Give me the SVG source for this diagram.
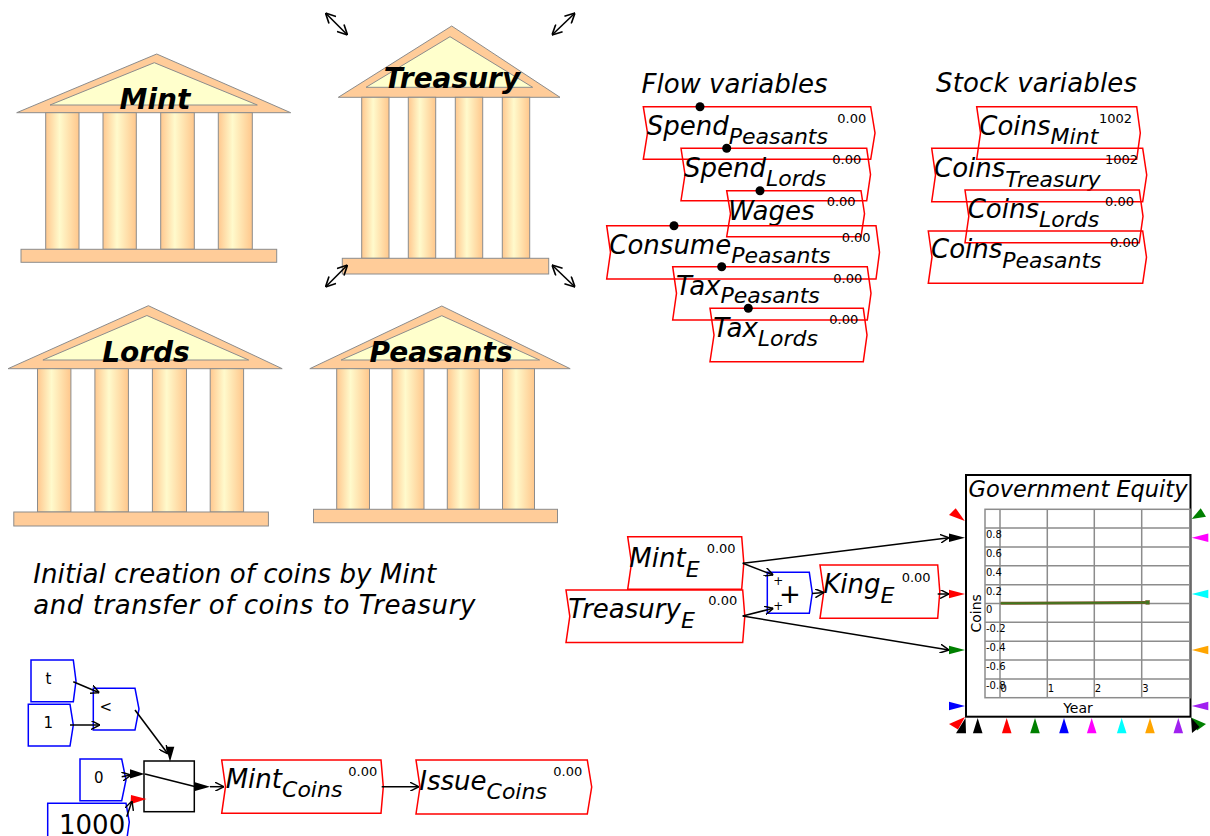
<svg xmlns="http://www.w3.org/2000/svg" width="1210" height="836" viewBox="0 0 1210 836">
  <style>
    text { font-family: "DejaVu Sans", "Liberation Sans", sans-serif; }
    .roof { fill: #ffcc99; stroke: #8c8c8c; stroke-width: 1; }
    .pediment { fill: #ffffcc; stroke: #8c8c8c; stroke-width: 1; }
    .col { fill: url(#colGrad); stroke: #8c8c8c; stroke-width: 1; }
    .base { fill: #ffcc99; stroke: #8c8c8c; stroke-width: 1; }
    .tname { font-size: 28px; font-weight: bold; font-style: italic; text-anchor: middle; }
    .head { font-size: 26px; font-style: italic; }
    .var { fill: none; stroke: #ff0000; stroke-width: 1.5; }
    .cst { fill: #ffffff; stroke: #0000ff; stroke-width: 1.5; }
    .nm { font-size: 26px; font-style: italic; }
    .sb { font-size: 22px; font-style: italic; }
    .val { font-size: 13px; }
    .cl { font-size: 15px; }
    .wire { fill: none; stroke: #000; stroke-width: 1.5; marker-end: url(#openHead); }
    .dot { fill: #000; }
    .grid { stroke: #8c8c8c; stroke-width: 1.5; fill: none; }
    .tick { font-size: 10px; }
    .resize { stroke: #000; stroke-width: 1.6; marker-start: url(#resizeHeadRev); marker-end: url(#resizeHead); }
  </style>
  <defs>
    <linearGradient id="colGrad" x1="0" y1="0" x2="1" y2="0">
      <stop offset="0" stop-color="#ffc88f"/>
      <stop offset="0.42" stop-color="#fffacc"/>
      <stop offset="1" stop-color="#ffc78c"/>
    </linearGradient>
    <marker id="openHead" viewBox="0 0 10 10" refX="10" refY="5" markerWidth="9" markerHeight="9" markerUnits="userSpaceOnUse" orient="auto">
      <path d="M0,0 L10,5 L0,10" fill="none" stroke="#000" stroke-width="1.6"/>
    </marker>
    <marker id="resizeHead" viewBox="0 0 10 10" refX="10" refY="5" markerWidth="11" markerHeight="11" markerUnits="userSpaceOnUse" orient="auto">
      <path d="M1,0.5 L10,5 L1,9.5" fill="none" stroke="#000" stroke-width="1.5"/>
    </marker>
    <marker id="resizeHeadRev" viewBox="0 0 10 10" refX="0" refY="5" markerWidth="11" markerHeight="11" markerUnits="userSpaceOnUse" orient="auto">
      <path d="M9,0.5 L0,5 L9,9.5" fill="none" stroke="#000" stroke-width="1.5"/>
    </marker>
  </defs>
  <rect width="1210" height="836" fill="#ffffff"/>

  <!-- Temples -->
  <g id="mint">
    <polygon class="roof" points="156.7,54 290.7,112.7 16.7,112.7"/>
    <polygon class="pediment" points="154.3,62.7 257.3,105 50,105"/>
    <rect class="col" x="45.7" y="112.7" width="33.3" height="136.6"/>
    <rect class="col" x="103" y="112.7" width="33.3" height="136.6"/>
    <rect class="col" x="160.7" y="112.7" width="33.6" height="136.6"/>
    <rect class="col" x="218.3" y="112.7" width="34" height="136.6"/>
    <rect class="base" x="21" y="249.3" width="255.7" height="13"/>
    <text class="tname" x="155" y="109">Mint</text>
  </g>
  <g id="treasury">
    <polygon class="roof" points="451.7,26 560,97.3 338.3,97.3"/>
    <polygon class="pediment" points="450,36.7 532.7,87.3 366,87.3"/>
    <rect class="col" x="361.7" y="97.3" width="27.3" height="161"/>
    <rect class="col" x="408.3" y="97.3" width="27.4" height="161"/>
    <rect class="col" x="455.3" y="97.3" width="27.4" height="161"/>
    <rect class="col" x="502.3" y="97.3" width="27.4" height="161"/>
    <rect class="base" x="342.3" y="258.3" width="206.4" height="15.7"/>
    <text class="tname" x="452" y="87.5">Treasury</text>
    <line class="resize" x1="325.5" y1="13" x2="347.5" y2="35"/>
    <line class="resize" x1="575" y1="13" x2="552" y2="35"/>
    <line class="resize" x1="325.5" y1="287" x2="347.5" y2="265"/>
    <line class="resize" x1="552" y1="265" x2="575" y2="287"/>
  </g>
  <g id="lords">
    <polygon class="roof" points="148.4,305.7 282.2,368.7 8,368.7"/>
    <polygon class="pediment" points="146.9,315.5 248.7,360 42.9,360"/>
    <rect class="col" x="37.5" y="368.7" width="33.4" height="143.3"/>
    <rect class="col" x="94.9" y="368.7" width="33.5" height="143.3"/>
    <rect class="col" x="152.4" y="368.7" width="34.1" height="143.3"/>
    <rect class="col" x="210.2" y="368.7" width="33.4" height="143.3"/>
    <rect class="base" x="13.8" y="512" width="254.6" height="14"/>
    <text class="tname" x="146" y="362">Lords</text>
  </g>
  <g id="peasants">
    <polygon class="roof" points="441.8,306 570.2,368.7 309.8,368.7"/>
    <polygon class="pediment" points="441.8,315.7 539.6,360 341.1,360"/>
    <rect class="col" x="336.7" y="368.7" width="32.8" height="140.6"/>
    <rect class="col" x="392" y="368.7" width="32" height="140.6"/>
    <rect class="col" x="447.3" y="368.7" width="32" height="140.6"/>
    <rect class="col" x="502.5" y="368.7" width="32" height="140.6"/>
    <rect class="base" x="313.5" y="509.3" width="244" height="13.4"/>
    <text class="tname" x="441" y="362">Peasants</text>
  </g>

  <!-- Headings -->
  <text class="head" x="641.5" y="93.3">Flow variables</text>
  <text class="head" x="936" y="91.7" textLength="201">Stock variables</text>
  <text class="head" x="33.3" y="582.5" font-size="27" textLength="403">Initial creation of coins by Mint</text>
  <text class="head" x="33.3" y="614" font-size="27" textLength="442">and transfer of coins to Treasury</text>

  <!-- Flow variables -->
  <g id="spendPeasants">
    <polygon class="var" points="643.3,106.7 870.7,106.7 875,133 870.7,159.3 643.3,159.3 647.5,133"/>
    <text class="nm" x="646.7" y="135">Spend<tspan class="sb" dy="8.5">Peasants</tspan></text>
    <text class="val" x="837.3" y="123.3">0.00</text>
    <circle class="dot" cx="700" cy="106.7" r="4.5"/>
  </g>
  <g id="spendLords">
    <polygon class="var" points="681,148.3 866.7,148.3 870.5,174.5 866.7,200.7 681,200.7 685,174.5"/>
    <text class="nm" x="684" y="176.7">Spend<tspan class="sb" dy="9">Lords</tspan></text>
    <text class="val" x="832.3" y="164">0.00</text>
    <circle class="dot" cx="726.7" cy="148.3" r="4.5"/>
  </g>
  <g id="wages">
    <polygon class="var" points="726.7,190.7 861,190.7 864.5,213.7 861,236.7 726.7,236.7 730.5,213.7"/>
    <text class="nm" x="728.3" y="220">Wages</text>
    <text class="val" x="826.7" y="206">0.00</text>
    <circle class="dot" cx="760" cy="190.7" r="4.5"/>
  </g>
  <g id="consumePeasants">
    <polygon class="var" points="606.7,225.7 876,225.7 879.5,252.3 876,279 606.7,279 610.5,252.3"/>
    <text class="nm" x="609.3" y="254">Consume<tspan class="sb" dy="8.7">Peasants</tspan></text>
    <text class="val" x="841.7" y="241.7">0.00</text>
    <circle class="dot" cx="674" cy="225.7" r="4.5"/>
  </g>
  <g id="taxPeasants">
    <polygon class="var" points="672.7,266.7 867.3,266.7 871,293.3 867.3,320 672.7,320 676.5,293.3"/>
    <text class="nm" x="676" y="295">Tax<tspan class="sb" dy="8.3">Peasants</tspan></text>
    <text class="val" x="833.3" y="282.7">0.00</text>
    <circle class="dot" cx="721.7" cy="266.7" r="4.5"/>
  </g>
  <g id="taxLords">
    <polygon class="var" points="710,308.3 863.3,308.3 867,335 863.3,361.7 710,361.7 714,335"/>
    <text class="nm" x="713.3" y="336.7">Tax<tspan class="sb" dy="9.3">Lords</tspan></text>
    <text class="val" x="829.3" y="324.3">0.00</text>
    <circle class="dot" cx="748.3" cy="308.3" r="4.5"/>
  </g>

  <!-- Stock variables -->
  <g id="coinsMint">
    <polygon class="var" points="976.7,106.7 1136.7,106.7 1140.3,133 1136.7,159.3 976.7,159.3 980.5,133"/>
    <text class="nm" x="979.3" y="135">Coins<tspan class="sb" dy="9">Mint</tspan></text>
    <text class="val" x="1099" y="123.3">1002</text>
  </g>
  <g id="coinsTreasury">
    <polygon class="var" points="931.7,148.3 1142.7,148.3 1146.7,175 1142.7,201.7 931.7,201.7 935.5,175"/>
    <text class="nm" x="934" y="177.3">Coins<tspan class="sb" dy="9.4">Treasury</tspan></text>
    <text class="val" x="1105" y="164">1002</text>
  </g>
  <g id="coinsLords">
    <polygon class="var" points="965,190 1139.3,190 1143,216.3 1139.3,242.7 965,242.7 968.8,216.3"/>
    <text class="nm" x="967.7" y="218.3">Coins<tspan class="sb" dy="8.4">Lords</tspan></text>
    <text class="val" x="1105" y="206">0.00</text>
  </g>
  <g id="coinsPeasants">
    <polygon class="var" points="928.3,231 1142.7,231 1146.5,257.2 1142.7,283.3 928.3,283.3 932,257.2"/>
    <text class="nm" x="931" y="258.3">Coins<tspan class="sb" dy="10">Peasants</tspan></text>
    <text class="val" x="1110" y="246.7">0.00</text>
  </g>

  <!-- Equity expression -->
  <g id="mintE">
    <polygon class="var" points="627.7,536.7 741.7,536.7 743.8,563 741.7,589.3 627.7,589.3 631.5,563"/>
    <text class="nm" x="629.3" y="566.7">Mint<tspan class="sb" dy="10">E</tspan></text>
    <text class="val" x="706.7" y="553.3">0.00</text>
  </g>
  <g id="treasuryE">
    <polygon class="var" points="566,590 742.7,590 744.8,616.3 742.7,642.6 566,642.6 569.8,616.3"/>
    <text class="nm" x="568.3" y="618.3">Treasury<tspan class="sb" dy="10">E</tspan></text>
    <text class="val" x="708.3" y="605">0.00</text>
  </g>
  <g id="plus">
    <polygon class="cst" points="767.3,572.3 809.3,572.3 812.3,593 809.3,613.3 767.3,613.3"/>
    <text x="790" y="602.5" font-size="26" text-anchor="middle">+</text>
    <text x="778.3" y="585" font-size="12" text-anchor="middle">+</text>
    <text x="778.3" y="610" font-size="12" text-anchor="middle">+</text>
  </g>
  <g id="kingE">
    <polygon class="var" points="820,565 937.7,565 939.8,591.7 937.7,618.3 820,618.3 823.8,591.7"/>
    <text class="nm" x="823.3" y="593.3">King<tspan class="sb" dy="9.4">E</tspan></text>
    <text class="val" x="901.7" y="581.7">0.00</text>
  </g>

  <!-- Plot -->
  <g id="governmentEquity">
    <rect x="966" y="475" width="224.5" height="241.7" fill="#ffffff" stroke="#000" stroke-width="2"/>
    <text x="1078" y="496.7" font-size="22.5" font-style="italic" text-anchor="middle">Government Equity</text>
    <rect class="grid" x="985" y="509.3" width="205" height="188.4"/>
    <path class="grid" d="M1000,509.3V697.7M1047.3,509.3V697.7M1094.3,509.3V697.7M1141.7,509.3V697.7
      M985,528.1H1190M985,547H1190M985,565.8H1190M985,584.7H1190M985,603.5H1190M985,622.3H1190M985,641.2H1190M985,660H1190M985,678.9H1190"/>
    <g class="tick">
      <text x="986" y="538">0.8</text>
      <text x="986" y="556.8">0.6</text>
      <text x="986" y="575.6">0.4</text>
      <text x="986" y="594.5">0.2</text>
      <text x="986" y="613">0</text>
      <text x="986" y="632">-0.2</text>
      <text x="986" y="650.8">-0.4</text>
      <text x="986" y="669.7">-0.6</text>
      <text x="986" y="688.5">-0.8</text>
      <text x="1000.5" y="691.7">0</text>
      <text x="1047.8" y="691.7">1</text>
      <text x="1094.8" y="691.7">2</text>
      <text x="1142.2" y="691.7">3</text>
    </g>
    <line x1="1000.7" y1="603.3" x2="1147.5" y2="602.5" stroke="#7a5a2a" stroke-width="3"/>
    <line x1="1000.7" y1="603.3" x2="1147.5" y2="602.5" stroke="#3c7a1e" stroke-width="1.6"/>
    <rect x="1145.8" y="600.6" width="3.6" height="3.6" fill="#3c7a1e" stroke="#7a5a2a" stroke-width="0.6"/>
    <text x="1078" y="712.7" font-size="14" text-anchor="middle">Year</text>
    <text x="981.5" y="613.3" font-size="14" text-anchor="middle" transform="rotate(-90 981.5 613.3)">Coins</text>
    <!-- input ports -->
    <polygon points="949,515 955.7,508.3 964.8,521" fill="#ff0000"/>
    <polygon points="949,533.5 965,537.7 949,542" fill="#000"/>
    <polygon points="949,589.7 965,594 949,598.3" fill="#ff0000"/>
    <polygon points="949,645.7 965,650 949,654.3" fill="#008000"/>
    <polygon points="949,701.7 965,706 949,710.3" fill="#0000ff"/>
    <polygon points="949,724 965,717 958,729.5" fill="#ff0000"/>
    <polygon points="956,733.3 965.5,718 966,733.3" fill="#000"/>
    <polygon points="1191.7,519 1200.7,508.3 1206,516.7" fill="#008000"/>
    <polygon points="1208.3,533.5 1191.7,537.7 1208.3,542" fill="#ff00ff"/>
    <polygon points="1208.3,589.7 1191.7,594 1208.3,598.3" fill="#00ffff"/>
    <polygon points="1208.3,645.7 1191.7,650 1208.3,654.3" fill="#ffa500"/>
    <polygon points="1208.3,701.7 1191.7,706 1208.3,710.3" fill="#a020f0"/>
    <polygon points="1191,717.5 1206,724 1197,730.5" fill="#008000"/>
    <polygon points="1191,717.5 1192,733 1199.5,727" fill="#000"/>
    <polygon points="977.7,718 972.9,733.3 982.5,733.3" fill="#000"/>
    <polygon points="1006.7,718 1001.9,733.3 1011.5,733.3" fill="#ff0000"/>
    <polygon points="1035,718 1030.2,733.3 1039.8,733.3" fill="#008000"/>
    <polygon points="1064,718 1059.2,733.3 1068.8,733.3" fill="#0000ff"/>
    <polygon points="1091.7,718 1086.9,733.3 1096.5,733.3" fill="#ff00ff"/>
    <polygon points="1121.7,718 1116.9,733.3 1126.5,733.3" fill="#00ffff"/>
    <polygon points="1150,718 1145.2,733.3 1154.8,733.3" fill="#ffa500"/>
    <polygon points="1178.3,718 1173.5,733.3 1183.1,733.3" fill="#a020f0"/>
  </g>

  <!-- Coin creation logic -->
  <g id="constT">
    <polygon class="cst" points="31,660 73.3,660 76,681 73.3,701.7 31,701.7"/>
    <text class="cl" x="45.5" y="684.3">t</text>
  </g>
  <g id="constOne">
    <polygon class="cst" points="28.3,704.3 70,704.3 73.3,725 70,746 28.3,746"/>
    <text class="cl" x="43.5" y="728.3">1</text>
  </g>
  <g id="lessThan">
    <polygon class="cst" points="93.3,688.3 135,688.3 139,709 135,730 93.3,730"/>
    <text class="cl" x="99.5" y="712">&lt;</text>
  </g>
  <g id="constZero">
    <polygon class="cst" points="80,759 121.7,759 126,780 121.7,800.7 80,800.7"/>
    <text class="cl" x="94" y="783.3">0</text>
  </g>
  <g id="constThousand">
    <polygon class="cst" points="47.7,803.3 126,803.3 129.3,822 126,845 47.7,845"/>
    <text x="59" y="833.5" font-size="26">1000</text>
  </g>
  <g id="switch">
    <rect x="144" y="761" width="50.3" height="50.7" fill="#ffffff" stroke="#000" stroke-width="1.5"/>
    <line x1="145" y1="774" x2="195.7" y2="786.7" stroke="#000" stroke-width="1.5"/>
    <polygon points="165.7,746.7 174.3,746.7 170,761.7" fill="#000"/>
    <polygon points="130,769.3 144.5,774 130,778.6" fill="#000"/>
    <polygon points="131,795 146.5,799 130.5,804.3" fill="#ff0000"/>
    <polygon points="195,782.3 210,786.7 195,791" fill="#000"/>
  </g>
  <g id="mintCoins">
    <polygon class="var" points="221.7,760 381,760 383.3,786.7 381,813.3 221.7,813.3 225.5,786.7"/>
    <text class="nm" x="225.7" y="787.5">Mint<tspan class="sb" dy="9.5">Coins</tspan></text>
    <text class="val" x="348.3" y="776">0.00</text>
  </g>
  <g id="issueCoins">
    <polygon class="var" points="416,760 587.3,760 591.7,787 587.3,814 416,814 420,787"/>
    <text class="nm" x="419.3" y="789.5">Issue<tspan class="sb" dy="9">Coins</tspan></text>
    <text class="val" x="553.3" y="776">0.00</text>
  </g>

  <!-- Connectors -->
  <g id="wires">
    <line class="wire" x1="73.3" y1="681.7" x2="99.3" y2="692.7"/>
    <line class="wire" x1="70" y1="725" x2="100" y2="725"/>
    <line class="wire" x1="135" y1="710" x2="168" y2="754"/>
    <line class="wire" x1="121.7" y1="776.7" x2="131" y2="775"/>
    <line class="wire" x1="126.7" y1="816.7" x2="132" y2="801"/>
    <line class="wire" x1="210" y1="786.7" x2="224" y2="786.7"/>
    <line class="wire" x1="381.7" y1="786.7" x2="419" y2="786.7"/>
    <line class="wire" x1="742.7" y1="563.3" x2="773.3" y2="575"/>
    <line class="wire" x1="742.7" y1="616" x2="773.3" y2="608.3"/>
    <line class="wire" x1="812" y1="593.5" x2="824" y2="592.5"/>
    <line class="wire" x1="742.7" y1="563.3" x2="949" y2="537.7"/>
    <line class="wire" x1="937.7" y1="594" x2="949" y2="594"/>
    <line class="wire" x1="742.7" y1="616" x2="949" y2="650"/>
  </g>
</svg>
